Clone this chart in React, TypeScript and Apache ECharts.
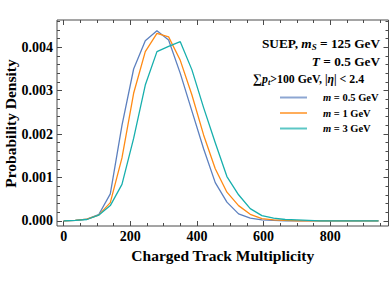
import React, { useEffect, useRef } from "react";
import * as echarts from "echarts";

const binCenters = [0, 35, 70, 105, 140, 175, 210, 245, 280, 315, 350, 385, 420, 455, 490, 525, 560, 595, 630, 665, 700, 735, 770, 805, 840, 875, 910, 945];
const seriesNames = ["m = 0.5 GeV", "m = 1 GeV", "m = 3 GeV"];
const densityM05 = [0, 0.00001, 0.00004, 0.00014, 0.00062, 0.0022, 0.0035, 0.00415, 0.00438, 0.00417, 0.0034, 0.00253, 0.00166, 0.00088, 0.00043, 0.00016, 0.00006, 0.00002, 0.00001, 0, 0, 0, 0, 0, 0, 0, 0, 0];
const densityM1 = [0, 0.00001, 0.00004, 0.00013, 0.00042, 0.00145, 0.00294, 0.0039, 0.00432, 0.00424, 0.0037, 0.0029, 0.00198, 0.0012, 0.00066, 0.00035, 0.00015, 0.00005, 0.00002, 0.00001, 0, 0, 0, 0, 0, 0, 0, 0];
const densityM3 = [0, 0.00001, 0.00003, 0.00013, 0.00035, 0.00084, 0.0019, 0.00313, 0.0039, 0.00402, 0.00413, 0.00348, 0.00261, 0.0018, 0.00102, 0.0006, 0.00028, 0.00012, 0.00006, 0.00003, 0.00002, 0.00001, 0, 0, 0, 0, 0, 0];
const seriesColors = ["#5D80BF", "#FF8A14", "#17AFAD"];

const xMajorTicks = [0, 200, 400, 600, 800];
const xMinorTicks = [50, 100, 150, 250, 300, 350, 450, 500, 550, 650, 700, 750, 850, 900, 950];
const yMajorTicks = [0, 0.001, 0.002, 0.003, 0.004];
const yMinorTicks = [0.0002, 0.0004, 0.0006, 0.0008, 0.0012, 0.0014, 0.0016, 0.0018, 0.0022, 0.0024, 0.0026, 0.0028, 0.0032, 0.0034, 0.0036, 0.0038, 0.0042, 0.0044, 0.0046];

const X_MIN = -20;
const X_MAX = 975;
const Y_MIN = -0.00012;
const Y_MAX = 0.00463;

const FONT = "Liberation Serif";
const FRAME = "#4a4a4a";

function makeAxis(kind: "x" | "y", position: string, ticks: number[], len: number, withLabels: boolean, extra: any = {}) {
  return {
    type: "value",
    position,
    min: kind === "x" ? X_MIN : Y_MIN,
    max: kind === "x" ? X_MAX : Y_MAX,
    axisLine: { show: false, onZero: false },
    splitLine: { show: false },
    axisTick: { show: true, inside: true, length: len, customValues: ticks, lineStyle: { color: FRAME, width: 1 } },
    axisLabel: withLabels
      ? {
          show: true,
          customValues: ticks,
          color: "#000",
          fontFamily: FONT,
          fontWeight: "bold",
          fontSize: 14,
          margin: kind === "x" ? 3 : 4,
          formatter: kind === "x" ? (v: number) => String(Math.round(v)) : (v: number) => v.toFixed(3),
        }
      : { show: false },
    ...extra,
  };
}

const richBase = { fontFamily: FONT, fontWeight: "bold", fontSize: 13.3, lineHeight: 15, fill: "#000", color: "#000" };
const richDefs = {
  i: { ...richBase, fontStyle: "italic" },
  s: { fontFamily: FONT, fontWeight: "bold", fontStyle: "italic", fontSize: 9, lineHeight: 4, verticalAlign: "bottom", color: "#000", fill: "#000" },
};
const richBase3 = { ...richBase, fontSize: 11.8 };
const richDefs3 = {
  i: { ...richBase3, fontStyle: "italic" },
  s: { ...richDefs.s, fontSize: 8.3 },
  big: { ...richBase3, fontSize: 12.8 },
};

export default function App() {
  const ref = useRef<HTMLDivElement>(null);
  useEffect(() => {
    if (!ref.current) return;
    const chart = echarts.init(ref.current, undefined, { renderer: "svg" });
    const datasets = [densityM05, densityM1, densityM3];
    chart.setOption({
      animation: false,
      backgroundColor: "#fff",
      grid: {
        left: 57,
        top: 20,
        right: 1.5,
        bottom: 58,
        containLabel: false,
        outerBoundsMode: "none",
        show: true,
        borderColor: FRAME,
        borderWidth: 1,
        backgroundColor: "transparent",
      },
      xAxis: [
        makeAxis("x", "bottom", xMajorTicks, 5, true, {
          name: "Charged Track Multiplicity",
          nameLocation: "middle",
          nameGap: 20,
          nameTextStyle: { color: "#000", fontFamily: FONT, fontWeight: "bold", fontSize: 15.5 },
        }),
        makeAxis("x", "bottom", xMinorTicks, 3, false),
        makeAxis("x", "top", xMajorTicks, 5, false),
        makeAxis("x", "top", xMinorTicks, 3, false),
      ],
      yAxis: [
        makeAxis("y", "left", yMajorTicks, 5, true),
        makeAxis("y", "left", yMinorTicks, 3, false),
        makeAxis("y", "right", yMajorTicks, 5, false),
        makeAxis("y", "right", yMinorTicks, 3, false),
      ],
      legend: {
        orient: "vertical",
        left: 275,
        top: 86,
        align: "left",
        icon: "rect",
        itemWidth: 27,
        itemHeight: 2,
        itemGap: 2.5,
        data: seriesNames,
        itemStyle: { opacity: 0.7 },
        formatter: (name: string) => "{sp|}{i|m}" + name.slice(1),
        textStyle: {
          color: "#000",
          fontFamily: FONT,
          fontWeight: "bold",
          fontSize: 10.5,
          lineHeight: 13,
          rich: {
            sp: { width: 11 },
            i: { color: "#000", fontFamily: FONT, fontWeight: "bold", fontStyle: "italic", fontSize: 10.5, lineHeight: 13 },
          },
        },
      },
      graphic: [
        {
          type: "text",
          x: 10,
          y: 123.5,
          rotation: Math.PI / 2,
          style: {
            text: "Probability Density",
            fontFamily: FONT,
            fontWeight: "bold",
            fontSize: 15.5,
            fill: "#000",
            align: "center",
            verticalAlign: "middle",
          },
        },
        {
          type: "text",
          x: 380,
          y: 43.5,
          style: { ...richBase, text: "SUEP, {i|m}{s|S} = 125 GeV", align: "right", verticalAlign: "middle", rich: richDefs },
        },
        {
          type: "text",
          x: 380,
          y: 61,
          style: { ...richBase, text: "{i|T} = 0.5 GeV", align: "right", verticalAlign: "middle", rich: richDefs },
        },
        {
          type: "text",
          x: 253,
          y: 78.5,
          style: { ...richBase3, text: "{big|∑}{i|p}{s|t}>100 GeV, |{i|η}| < 2.4", align: "left", verticalAlign: "middle", rich: richDefs3 },
        },
      ],
      series: seriesNames.map((name, k) => ({
        name,
        type: "line",
        xAxisIndex: 0,
        yAxisIndex: 0,
        symbol: "none",
        showSymbol: false,
        color: seriesColors[k],
        lineStyle: { color: seriesColors[k], width: 1.3 },
        data: binCenters.map((x, j) => [x, datasets[k][j]]),
      })),
    });
    return () => chart.dispose();
  }, []);
  return <div ref={ref} style={{ position: "fixed", left: 0, top: 0, width: 390, height: 284 }} />;
}
